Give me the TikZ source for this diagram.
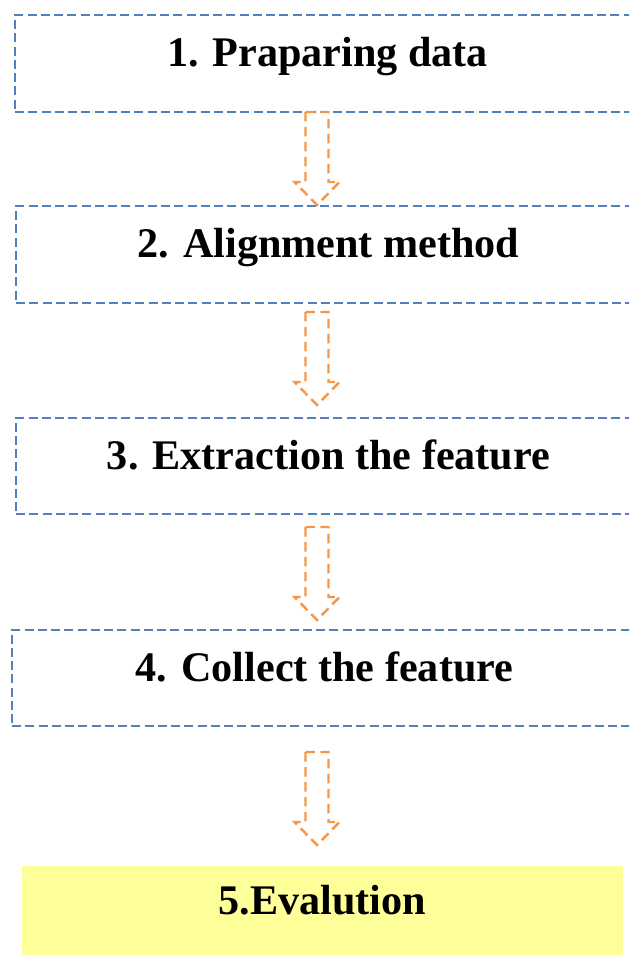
\documentclass[tikz,border=0pt]{standalone}
\usepackage{fontspec}
\setmainfont{Liberation Serif}
\usepackage{tikz}

\definecolor{boxblue}{HTML}{4F81BD}
\definecolor{arroworange}{HTML}{F79646}
\definecolor{evalyellow}{HTML}{FFFF99}

\begin{document}
\begin{tikzpicture}[
    x=0.02cm, y=-0.02cm,
    stepbox/.style={rectangle, draw=boxblue, line width=1.4pt, dash pattern=on 0.18cm off 0.085cm,
        minimum width=12.5cm, minimum height=1.93cm, inner sep=0pt,
        font=\fontsize{24}{28}\selectfont\bfseries, text height=0.6cm, text depth=0.46cm},
    evalbox/.style={stepbox, draw=none, fill=evalyellow, minimum width=12.02cm, minimum height=1.78cm},
    flowarrow/.style={draw=arroworange, line width=1.4pt, dash pattern=on 0.19cm off 0.11cm}
]
    \path[use as bounding box, clip] (0,0) rectangle (629,956);

    % Steps
    \node[stepbox] (prep) at (327.5,63.5) {1. Praparing data};
    \node[stepbox] (align) at (328.5,254.5) {2. Alignment method};
    \node[stepbox] (extract) at (328.5,466) {3. Extraction the feature};
    \node[stepbox] (collect) at (324.5,678) {4. Collect the feature};

    % Evaluation
    \node[evalbox] (eval) at (322.5,910.5) {5.Evalution};

    % Hollow arrows between the steps
    \foreach \ay in {112,312,527,752} {
        \draw[flowarrow] (317,\ay) ++(-11.5,0) -- ++(0,70) -- ++(-11,0) -- ++(22.5,23)
            -- ++(22.5,-23) -- ++(-11,0) -- ++(0,-70) -- cycle;
    }
\end{tikzpicture}
\end{document}
